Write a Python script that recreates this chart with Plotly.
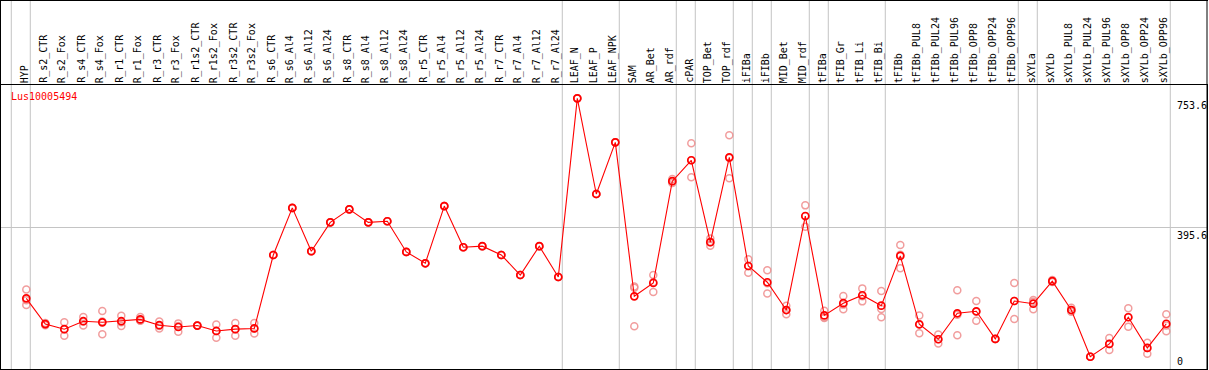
import plotly.graph_objects as go

categories = [
    "HYP", "R_s2_CTR", "R_s2_Fox", "R_s4_CTR", "R_s4_Fox", "R_r1_CTR", "R_r1_Fox",
    "R_r3_CTR", "R_r3_Fox", "R_r1s2_CTR", "R_r1s2_Fox", "R_r3s2_CTR", "R_r3s2_Fox",
    "R_s6_CTR", "R_s6_Al4", "R_s6_Al12", "R_s6_Al24", "R_s8_CTR", "R_s8_Al4",
    "R_s8_Al12", "R_s8_Al24", "R_r5_CTR", "R_r5_Al4", "R_r5_Al12", "R_r5_Al24",
    "R_r7_CTR", "R_r7_Al4", "R_r7_Al12", "R_r7_Al24", "LEAF_N", "LEAF_P", "LEAF_NPK",
    "SAM", "AR_Bet", "AR_rdf", "cPAR", "TOP_Bet", "TOP_rdf", "iFIBa", "iFIBb",
    "MID_Bet", "MID_rdf", "tFIBa", "tFIB_Gr", "tFIB_Li", "tFIB_Bi", "tFIBb",
    "tFIBb_PUL8", "tFIBb_PUL24", "tFIBb_PUL96", "tFIBb_OPP8", "tFIBb_OPP24",
    "tFIBb_OPP96", "sXYLa", "sXYLb", "sXYLb_PUL8", "sXYLb_PUL24", "sXYLb_PUL96",
    "sXYLb_OPP8", "sXYLb_OPP24", "sXYLb_OPP96",
]

mean_values = [
    199.5, 128, 114, 136, 133, 136, 141, 125, 120, 124, 109, 114, 116,
    319.5, 450, 330, 410, 446, 410, 413, 328, 296.5, 455, 341, 344,
    319.5, 264, 344, 258.5, 753.6, 488.5, 631.7,
    205, 242, 524, 582, 355, 590, 289, 244, 167, 427.5,
    152, 186, 208, 179, 317, 127.5, 86, 158, 163.5, 87, 192,
    184.5, 247, 167, 37.6, 73, 147, 62, 129,
]

rep1 = [
    224, 131, 133, 148, 164, 151, 148, 135, 130, 124, 127, 131, 131,
    319.5, 450, 330, 410, 446, 410, 413, 328, 296.5, 455, 341, 344,
    319.5, 264, 344, 258.5, 753.6, 488.5, 631.7,
    232, 264, 530, 629, 365, 651, 308, 277, 179, 457,
    165, 206, 227, 220, 347, 152, 99, 222, 192, 87, 242,
    195, 250, 173, 37.6, 89.5, 172, 76.5, 155,
]
rep2 = [
    194, 128, 114, 135, 135, 133, 138, 123, 123, 124, 109, 114, 116,
    319.5, 450, 330, 410, 446, 410, 413, 328, 296.5, 455, 341, 344,
    319.5, 264, 344, 258.5, 753.6, 488.5, 631.7,
    229, 244, 524, 582, 355, 588, 289, 241, 167, 427,
    147, 182, 205, 170, 320, 127, 86, 154, 162, 87, 192,
    190, 247, 167, 37.6, 73, 148, 62, 124,
]
rep3 = [
    181, 125, 96, 124, 100, 123, 137, 116, 107, 124, 90, 96, 102,
    319.5, 450, 330, 410, 446, 410, 413, 328, 296.5, 455, 341, 344,
    319.5, 264, 344, 258.5, 753.6, 488.5, 631.7,
    122, 217, 519, 535, 345, 532, 270, 213, 155, 398,
    145, 169, 191, 147, 283, 102.5, 74, 97, 137, 87, 142,
    169, 245, 162, 37.6, 56, 121, 46, 108,
]

# index of the last category of each group (a separator is drawn after it)
group_ends = [-1, 0, 28, 31, 34, 35, 37, 38, 39, 41, 42, 45, 52, 53, 60]

gene_name = "Lus10005494"
y_max_label = "753.6"
y_mid_label = "395.6"
y_min_label = "0"
y_max_value = 753.6
y_mid_value = 395.6

RED = "#ff0000"
REP = "rgba(238,140,140,0.85)"
GRAY = "#c4c4c4"
FONT = "DejaVu Sans Mono"

W, H = 1209, 370
ML, MR, MT, MB = 1, 2, 85, 1
plot_w = W - ML - MR
plot_h = H - MT - MB

idx = list(range(len(categories)))

fig = go.Figure()

rep_x = idx * 3
rep_y = rep1 + rep2 + rep3
fig.add_trace(go.Scatter(
    x=rep_x, y=rep_y, mode="markers",
    marker=dict(symbol="circle-open", size=7, color=REP, line=dict(width=1.5, color=REP)),
    hoverinfo="skip", showlegend=False, cliponaxis=False,
))
fig.add_trace(go.Scatter(
    x=idx, y=mean_values, mode="lines+markers",
    line=dict(color=RED, width=1.1),
    marker=dict(symbol="circle-open", size=7, color=RED, line=dict(width=1.7, color=RED)),
    text=categories, showlegend=False, cliponaxis=False,
))

top_paper = 1 + MT / plot_h

shapes = []
for g in group_ends:
    shapes.append(dict(type="line", xref="x", yref="paper", x0=g + 0.21, x1=g + 0.21,
                       y0=0, y1=top_paper, line=dict(color=GRAY, width=1), layer="below"))
# header frame
shapes.append(dict(type="line", xref="paper", yref="paper", x0=-ML / plot_w, x1=1 + (MR - 1) / plot_w,
                   y0=top_paper - 0.5 / plot_h, y1=top_paper - 0.5 / plot_h, line=dict(color="black", width=1)))
shapes.append(dict(type="line", xref="paper", yref="paper", x0=-0.5 / plot_w, x1=-0.5 / plot_w,
                   y0=0, y1=top_paper, line=dict(color="black", width=1)))
shapes.append(dict(type="line", xref="paper", yref="paper", x0=1, x1=1,
                   y0=0, y1=top_paper, line=dict(color="black", width=1)))

annotations = []
for i, c in enumerate(categories):
    annotations.append(dict(
        x=i, y=1, xref="x", yref="paper", text=c, showarrow=False,
        textangle=-90, xanchor="center", yanchor="bottom", xshift=-2, yshift=0,
        font=dict(family=FONT, size=10, color="black"),
    ))

annotations.append(dict(x=(9 - ML) / plot_w, y=1 - 12 / plot_h, xref="paper", yref="paper",
                        text=gene_name, showarrow=False, xanchor="left", yanchor="middle",
                        font=dict(family=FONT, size=10, color=RED)))
label_x = len(categories) - 1 + 0.67
for val, txt, ref, anchor in [(y_max_value, y_max_label, "y", "top"),
                              (y_mid_value, y_mid_label, "y", "top"),
                              (0, y_min_label, "paper", "bottom")]:
    annotations.append(dict(x=label_x, y=val, xref="x", yref=ref, text=txt,
                            showarrow=False, xanchor="left", yanchor=anchor, xshift=-4,
                            font=dict(family=FONT, size=10, color="black")))

x0_px = 26.3
step_px = 19.0
x_lo = (ML - x0_px) / step_px
x_hi = (ML + plot_w - x0_px) / step_px

zero_px = 370.3
k = 0.3609
y_lo = (zero_px - (MT + plot_h)) / k
y_hi = (zero_px - MT) / k

fig.update_layout(
    width=W, height=H,
    margin=dict(l=ML, r=MR, t=MT, b=MB, pad=0),
    paper_bgcolor="white", plot_bgcolor="white",
    xaxis=dict(range=[x_lo, x_hi], showgrid=False, zeroline=False, showticklabels=False,
               ticks="", showline=True, mirror=True, linecolor="black", linewidth=1),
    yaxis=dict(range=[y_lo, y_hi], tickvals=[y_mid_value], showticklabels=False, ticks="",
               showgrid=True, gridcolor=GRAY, gridwidth=1, zeroline=False,
               showline=True, mirror=True, linecolor="black", linewidth=1),
    shapes=shapes, annotations=annotations,
    showlegend=False,
)

fig.write_html(
    "out.html",
    config={"displayModeBar": False},
    post_script="document.body.style.margin='0';document.body.style.padding='0';document.body.style.overflow='hidden';",
)
